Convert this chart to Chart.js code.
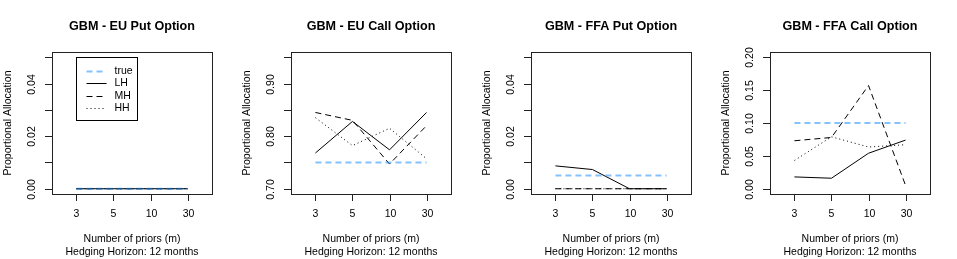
<!DOCTYPE html>
<html>
<head>
<meta charset="utf-8">
<script src="https://cdn.jsdelivr.net/npm/chart.js@4.4.1/dist/chart.umd.min.js"></script>
<style>
  body { margin: 0; background: #fff; }
  #wrap { position: relative; width: 957px; height: 259px; }
  canvas { position: absolute; top: 0; }
</style>
</head>
<body>
<div id="wrap">
  <canvas id="p0" width="239" height="259" style="left:0px"></canvas>
  <canvas id="p1" width="239" height="259" style="left:239px"></canvas>
  <canvas id="p2" width="239" height="259" style="left:479px"></canvas>
  <canvas id="p3" width="239" height="259" style="left:718px"></canvas>
</div>
<script>
// x categories (number of priors)
var priors = ['3', '5', '10', '30'];
var seriesNames = ['true', 'LH', 'MH', 'HH'];

var titles = ['GBM - EU Put Option', 'GBM - EU Call Option', 'GBM - FFA Put Option', 'GBM - FFA Call Option'];

// GBM - EU Put
var euPutTrue = [0, 0, 0, 0];
var euPutLH = [0, 0, 0, 0];
var euPutMH = [0, 0, 0, 0];
var euPutHH = [0, 0, 0, 0];

// GBM - EU Call
var euCallTrue = [0.75, 0.75, 0.75, 0.75];
var euCallLH = [0.768, 0.828, 0.774, 0.845];
var euCallMH = [0.845, 0.830, 0.747, 0.820];
var euCallHH = [0.835, 0.782, 0.815, 0.757];

// GBM - FFA Put
var ffaPutTrue = [0.005, 0.005, 0.005, 0.005];
var ffaPutLH = [0.0087, 0.0073, 0, 0];
var ffaPutMH = [0, 0, 0, 0];
var ffaPutHH = [0, 0, 0, 0];

// GBM - FFA Call
var ffaCallTrue = [0.1, 0.1, 0.1, 0.1];
var ffaCallLH = [0.018, 0.016, 0.054, 0.074];
var ffaCallMH = [0.073, 0.078, 0.157, 0.005];
var ffaCallHH = [0.043, 0.079, 0.0635, 0.067];

// y axis limits and ticks
var euPutLim = [0, 0.05];
var euCallLim = [0.70, 0.95];
var ffaPutLim = [0, 0.05];
var ffaCallLim = [0, 0.20];

var smallTicks = [0, 0.01, 0.02, 0.03, 0.04, 0.05];
var smallLabels = ['0.00', '', '0.02', '', '0.04', ''];
var euCallTicks = [0.70, 0.75, 0.80, 0.85, 0.90, 0.95];
var euCallLabels = ['0.70', '', '0.80', '', '0.90', ''];
var ffaCallTicks = [0, 0.05, 0.10, 0.15, 0.20];
var ffaCallLabels = ['0.00', '0.05', '0.10', '0.15', '0.20'];

var xTitle = 'Number of priors (m)';
var xSubTitle = 'Hedging Horizon: 12 months';
var yTitle = 'Proportional Allocation';

var FONT = '"Liberation Sans", Arial, Helvetica, sans-serif';
var trueColor = 'rgba(30,144,255,0.55)';

function pts(vals) {
    return vals.map(function (v, i) { return {x: i + 1, y: v}; });
}

function makeDatasets(t, lh, mh, hh) {
    return [
        {label: seriesNames[0], data: pts(t), borderColor: trueColor, borderWidth: 2, borderDash: [6, 4]},
        {label: seriesNames[1], data: pts(lh), borderColor: '#000', borderWidth: 1, borderDash: []},
        {label: seriesNames[2], data: pts(mh), borderColor: '#000', borderWidth: 1, borderDash: [6, 4]},
        {label: seriesNames[3], data: pts(hh), borderColor: '#000', borderWidth: 1, borderDash: [1, 3]}
    ];
}

// R style frame, axes, titles and legend
var rStyle = {
    id: 'rStyle',
    afterDraw: function (chart, args, opts) {
        var ctx = chart.ctx;
        var a = chart.chartArea;
        var xs = chart.scales.x, ys = chart.scales.y;
        ctx.save();
        ctx.strokeStyle = '#222';
        ctx.lineWidth = 1;
        ctx.setLineDash([]);
        ctx.strokeRect(Math.round(a.left) + 0.5, Math.round(a.top) + 0.5,
            Math.round(a.right - a.left), Math.round(a.bottom - a.top));

        ctx.fillStyle = '#000';
        ctx.font = '10.5px ' + FONT;
        ctx.textAlign = 'center';
        ctx.textBaseline = 'middle';

        // x ticks
        priors.forEach(function (p, i) {
            var x = Math.round(xs.getPixelForValue(i + 1)) + 0.5;
            ctx.beginPath();
            ctx.moveTo(x, a.bottom);
            ctx.lineTo(x, a.bottom + 7);
            ctx.stroke();
            ctx.fillText(p, x, 214.5);
        });

        // y ticks
        opts.ticks.forEach(function (t, i) {
            var y = Math.round(ys.getPixelForValue(t)) + 0.5;
            ctx.beginPath();
            ctx.moveTo(a.left - 7, y);
            ctx.lineTo(a.left, y);
            ctx.stroke();
            if (opts.labels[i]) {
                ctx.save();
                ctx.translate(32.5, y);
                ctx.rotate(-Math.PI / 2);
                ctx.fillText(opts.labels[i], 0, 0);
                ctx.restore();
            }
        });

        // axis titles
        var cx = (a.left + a.right) / 2;
        ctx.fillText(xTitle, cx, 239.5);
        ctx.fillText(xSubTitle, cx, 252.5);
        ctx.save();
        ctx.translate(8.5, (a.top + a.bottom) / 2);
        ctx.rotate(-Math.PI / 2);
        ctx.fillText(yTitle, 0, 0);
        ctx.restore();

        // main title
        ctx.font = 'bold 12.6px ' + FONT;
        ctx.fillText(opts.title, cx, 27);

        // legend
        if (opts.legend) {
            var lx = Math.round(xs.getPixelForValue(1)) + 0.5;
            var ly = Math.round(ys.getPixelForValue(opts.legendTop)) + 0.5;
            ctx.fillStyle = '#fff';
            ctx.fillRect(lx, ly, 61, 63);
            ctx.strokeStyle = '#000';
            ctx.strokeRect(lx, ly, 61, 63);
            ctx.font = '10.5px ' + FONT;
            ctx.textAlign = 'left';
            chart.data.datasets.forEach(function (ds, i) {
                var ry = Math.round(ly + 13 + i * 12.6) + 0.5;
                ctx.strokeStyle = ds.borderColor;
                ctx.lineWidth = ds.borderWidth;
                ctx.setLineDash(ds.borderDash);
                ctx.beginPath();
                ctx.moveTo(lx + 10, ry);
                ctx.lineTo(lx + 30, ry);
                ctx.stroke();
                ctx.fillStyle = '#000';
                ctx.fillText(ds.label, lx + 38, ry);
            });
        }
        ctx.restore();
    }
};

function pad(lim) {
    var r = lim[1] - lim[0];
    return [lim[0] - 0.04 * r, lim[1] + 0.04 * r];
}

function makePanel(id, title, datasets, lim, ticks, labels, legend) {
    var yl = pad(lim);
    return new Chart(document.getElementById(id), {
        type: 'line',
        data: {datasets: datasets},
        plugins: [rStyle],
        options: {
            responsive: false,
            animation: false,
            devicePixelRatio: 1,
            layout: {padding: {left: 52, right: 27, top: 52, bottom: 65}},
            elements: {
                point: {radius: 0},
                line: {tension: 0, borderCapStyle: 'butt', fill: false}
            },
            scales: {
                x: {type: 'linear', display: false, min: 0.34, max: 4.66},
                y: {type: 'linear', display: false, min: yl[0], max: yl[1]}
            },
            plugins: {
                legend: {display: false},
                tooltip: {enabled: false},
                rStyle: {title: title, ticks: ticks, labels: labels, legend: legend, legendTop: lim[1]}
            }
        }
    });
}

makePanel('p0', titles[0], makeDatasets(euPutTrue, euPutLH, euPutMH, euPutHH), euPutLim, smallTicks, smallLabels, true);
makePanel('p1', titles[1], makeDatasets(euCallTrue, euCallLH, euCallMH, euCallHH), euCallLim, euCallTicks, euCallLabels, false);
makePanel('p2', titles[2], makeDatasets(ffaPutTrue, ffaPutLH, ffaPutMH, ffaPutHH), ffaPutLim, smallTicks, smallLabels, false);
makePanel('p3', titles[3], makeDatasets(ffaCallTrue, ffaCallLH, ffaCallMH, ffaCallHH), ffaCallLim, ffaCallTicks, ffaCallLabels, false);
</script>
</body>
</html>
